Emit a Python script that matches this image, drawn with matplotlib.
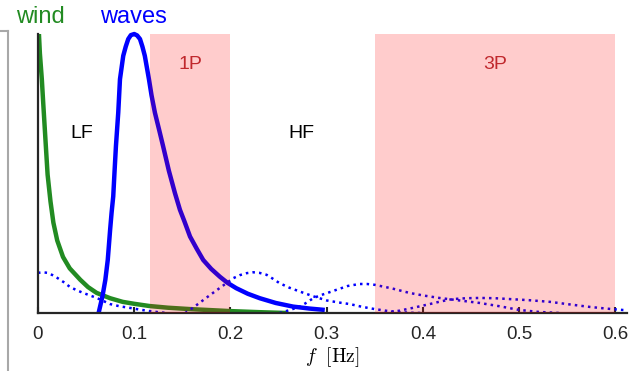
import matplotlib
matplotlib.use("Agg")
import matplotlib.pyplot as plt
from matplotlib.lines import Line2D

plt.rcParams['font.family'] = ['Liberation Sans', 'DejaVu Sans']
plt.rcParams['mathtext.fontset'] = 'cm'

# wind spectrum
wind_f = [0.001, 0.002, 0.004, 0.0055, 0.007, 0.0085, 0.010, 0.013, 0.016,
          0.020, 0.026, 0.033, 0.044, 0.052, 0.061, 0.075, 0.088, 0.100,
          0.116, 0.135, 0.158, 0.199, 0.230, 0.259]
wind_s = [1.0, 0.93, 0.838, 0.75, 0.665, 0.58, 0.496, 0.40, 0.324,
          0.26, 0.201, 0.16, 0.119, 0.093, 0.072, 0.053, 0.040, 0.033,
          0.025, 0.019, 0.014, 0.007, 0.003, 0.0]

# wave spectrum
waves_f = [0.063, 0.065, 0.067, 0.070, 0.0725, 0.075, 0.0765, 0.0782, 0.0796,
           0.081, 0.0834, 0.0852, 0.0886, 0.0912, 0.0938, 0.0965, 0.100,
           0.103, 0.106, 0.1085, 0.111, 0.1153, 0.118, 0.1215, 0.126, 0.130,
           0.136, 0.1423, 0.1475, 0.152, 0.158, 0.165, 0.1717, 0.180, 0.189,
           0.197, 0.206, 0.218, 0.2305, 0.247, 0.265, 0.282, 0.298]
waves_s = [0.0, 0.03, 0.06, 0.119, 0.19, 0.30, 0.36, 0.418, 0.51,
           0.598, 0.718, 0.838, 0.922, 0.955, 0.982, 0.996, 1.0,
           0.995, 0.982, 0.955, 0.922, 0.838, 0.78, 0.718, 0.655, 0.598,
           0.51, 0.43, 0.37, 0.33, 0.274, 0.23, 0.19, 0.158, 0.13,
           0.108, 0.089, 0.069, 0.053, 0.036, 0.023, 0.016, 0.011]

# dotted spectra
dot1_f = [0.0, 0.005, 0.010, 0.015, 0.020, 0.027, 0.033, 0.040, 0.047, 0.054,
          0.061, 0.068, 0.075, 0.085, 0.096, 0.106, 0.116, 0.125, 0.134]
dot1_s = [0.144, 0.146, 0.144, 0.136, 0.126, 0.110, 0.094, 0.082, 0.072, 0.063,
          0.054, 0.043, 0.032, 0.024, 0.018, 0.012, 0.007, 0.003, 0.0]

dot2_f = [0.153, 0.159, 0.165, 0.172, 0.179, 0.185, 0.191, 0.197, 0.203, 0.210,
          0.217, 0.2236, 0.230, 0.2375, 0.244, 0.251, 0.261, 0.272, 0.286,
          0.300, 0.312, 0.324, 0.337, 0.350, 0.362, 0.373, 0.386, 0.400]
dot2_s = [0.0, 0.014, 0.029, 0.047, 0.065, 0.080, 0.095, 0.110, 0.125, 0.136,
          0.143, 0.146, 0.144, 0.137, 0.123, 0.107, 0.091, 0.077, 0.060,
          0.045, 0.038, 0.032, 0.022, 0.014, 0.008, 0.004, 0.001, 0.0]

dot3_f = [0.251, 0.262, 0.272, 0.279, 0.286, 0.293, 0.300, 0.310, 0.322, 0.334,
          0.342, 0.350, 0.368, 0.386, 0.400, 0.417, 0.438, 0.459, 0.480,
          0.500, 0.520, 0.542]
dot3_s = [0.0, 0.011, 0.023, 0.037, 0.053, 0.063, 0.071, 0.083, 0.097, 0.104,
          0.104, 0.101, 0.088, 0.072, 0.063, 0.054, 0.045, 0.036, 0.024,
          0.011, 0.004, 0.0]

dot4_f = [0.360, 0.375, 0.389, 0.398, 0.407, 0.419, 0.431, 0.445, 0.459, 0.475,
          0.490, 0.510, 0.532, 0.552, 0.573, 0.590, 0.607, 0.615]
dot4_s = [0.0, 0.008, 0.018, 0.025, 0.032, 0.042, 0.050, 0.053, 0.054, 0.053,
          0.050, 0.046, 0.040, 0.031, 0.022, 0.016, 0.011, 0.010]

# rotor bands
bands = [(0.116, 0.200, '1P'), (0.350, 0.600, '3P')]
xticks = [0, 0.1, 0.2, 0.3, 0.4, 0.5, 0.6]
xticklabels = ['0', '0.1', '0.2', '0.3', '0.4', '0.5', '0.6']

fig = plt.figure(figsize=(6.35, 3.71), dpi=100)
ax = fig.add_axes([0.0598, 0.1563, 0.9276, 0.752])

ax.plot(wind_f, wind_s, color='#228B22', lw=3.2, solid_capstyle='butt', zorder=2)
for f, s in [(dot1_f, dot1_s), (dot2_f, dot2_s), (dot3_f, dot3_s), (dot4_f, dot4_s)]:
    ax.plot(f, s, color='blue', lw=1.8, ls=':', zorder=2.1)
ax.plot(waves_f, waves_s, color='blue', lw=3.2, solid_capstyle='butt',
        solid_joinstyle='round', zorder=2.2, clip_on=False)

for lo, hi, name in bands:
    ax.axvspan(lo, hi, color='red', alpha=0.2, lw=0, zorder=3)
    ax.text((lo + hi) / 2, 0.89, name, color='#c0282d', fontsize=14,
            ha='center', va='center')

ax.text(0.046, 0.645, 'LF', fontsize=14, ha='center', va='center')
ax.text(0.274, 0.645, 'HF', fontsize=14, ha='center', va='center')

ax.set_xlim(0, 0.612)
ax.set_ylim(0, 1.0)
ax.set_xticks(xticks)
ax.set_xticklabels(xticklabels)
ax.set_yticks([])
ax.tick_params(axis='x', direction='in', length=4, width=1.5, pad=9,
               labelsize=13.5, colors='#262626')
for side in ['top', 'right']:
    ax.spines[side].set_visible(False)
for side in ['left', 'bottom']:
    ax.spines[side].set_linewidth(1.6)
    ax.spines[side].set_color('#262626')
ax.set_xlabel(r'$f\ \ [\mathrm{Hz}]$', fontsize=14, labelpad=2)

fig.text(40 / 635, 1 - 17 / 371, 'wind', color='#228B22', fontsize=17,
         ha='center', va='center')
fig.text(133 / 635, 1 - 17 / 371, 'waves', color='blue', fontsize=17,
         ha='center', va='center')

# edge of neighbouring panel
fig.add_artist(Line2D([8 / 635, 8 / 635], [0, 1 - 31 / 371], color='#a8a8a8', lw=1.5))
fig.add_artist(Line2D([0, 8 / 635], [1 - 31 / 371, 1 - 31 / 371], color='#a8a8a8', lw=1.5))

fig.savefig('out.png', dpi=100)
